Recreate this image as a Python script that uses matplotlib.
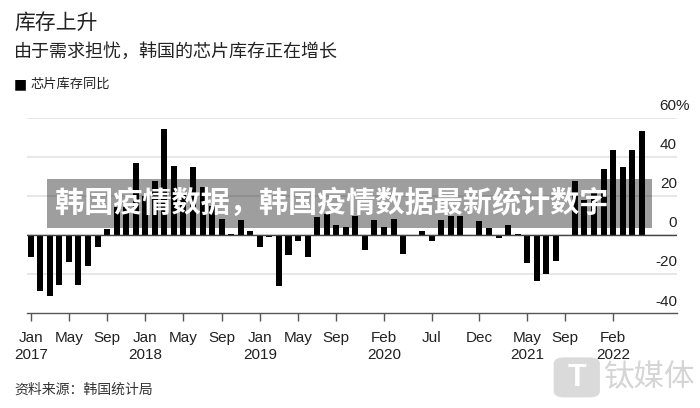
import matplotlib
matplotlib.use('Agg')
import matplotlib.pyplot as plt
import matplotlib.transforms as mtrans
from matplotlib.patches import Rectangle, FancyBboxPatch
import numpy as np

plt.rcParams['font.family'] = ['Liberation Sans', 'Noto Sans CJK SC', 'DejaVu Sans']

# monthly YoY change of chip inventory, Jan 2017 .. May 2022 (%)
values = [-11, -28.5, -31, -25.5, -13.5, -25.5, -15.7, -5.8, 3.2, 14.5, 14.5, 37.2,
          20, 28, 54.4, 35.5, 22, 34.9, 24.6, 15, 8.2, 0.8, 8, 2.4,
          -6.2, -1, -25.8, -10, -2.9, -11, 9.6, 11, 5.1, 4.4, 10, -7.5,
          7.9, 4.1, 8.2, -9.7, 0.3, 2.4, -2.7, 7.9, 9.9, 9.9, 0.3, 7.3,
          3.9, -1.4, 5.1, 0.7, -14.4, -23.4, -19.7, -13, 0.3, 28, 18, 22,
          33.8, 43.8, 34.9, 43.8, 53.7]
months = np.arange(len(values))

tick_pos = [0, 4, 8, 12, 16, 20, 24, 28, 32, 37, 42, 47, 52, 56, 61]
tick_labels = ['Jan\n2017', 'May', 'Sep', 'Jan\n2018', 'May', 'Sep', 'Jan\n2019', 'May',
               'Sep', 'Feb\n2020', 'Jul', 'Dec', 'May\n2021', 'Sep', 'Feb\n2022']
y_levels = [-40, -20, 0, 20, 40, 60]
y_labels = ['-40', '-20', '0', '20', '40', '60%']

title = '库存上升'
subtitle = '由于需求担忧，韩国的芯片库存正在增长'
legend_label = '芯片库存同比'
source = '资料来源：韩国统计局'
banner = '韩国疫情数据，韩国疫情数据最新统计数字'

fig = plt.figure(figsize=(7, 4.08), dpi=100)
ax = fig.add_axes([0.0386, 0.2321, 0.9286, 0.478])

ax.bar(months, values, width=0.63, color='black', zorder=3)
ax.set_xlim(-0.39, 67.7)
ax.set_ylim(-40, 60)

for y in y_levels[1:]:
    ax.axhline(y, color='#e3e3e3', lw=1.2, zorder=1)
ax.axhline(0, color='#444444', lw=1, zorder=4)

for s in ['top', 'left', 'right']:
    ax.spines[s].set_visible(False)
ax.spines['bottom'].set_color('#555555')
ax.spines['bottom'].set_linewidth(1)
ax.set_yticks([])
ax.set_xticks(tick_pos)
ax.set_xticklabels(tick_labels)
ax.tick_params(axis='x', length=6, width=1, color='#555555', labelsize=11,
               pad=7, labelcolor='#222222')

trans = mtrans.blended_transform_factory(ax.transAxes, ax.transData)
for y, lab in zip(y_levels, y_labels):
    xpos = 1.0 if lab != '60%' else 1.02
    ax.text(xpos, y + 4, lab, transform=trans, ha='right', va='baseline',
            fontsize=11, color='#222222')

# header
fig.text(0.02, 0.944, title, fontsize=15, color='#222222', va='center',
         family='Noto Sans CJK SC')
fig.text(0.02, 0.8725, subtitle, fontsize=13, color='#222222', va='center',
         family='Noto Sans CJK SC')
fig.text(0.02, 0.794, '■', fontsize=10, color='black', va='center',
         family='DejaVu Sans')
fig.text(0.043, 0.794, legend_label, fontsize=9.5, color='#222222', va='center',
         family='Noto Sans CJK SC')
fig.text(0.02, 0.044, source, fontsize=10, color='#333333', va='center',
         family='Noto Sans CJK SC')

# overlay banner
fig.add_artist(Rectangle((0.067, 0.441), 0.864, 0.120, transform=fig.transFigure,
                         facecolor='black', alpha=0.38, edgecolor='none', zorder=5))
fig.text(0.474, 0.5025, banner, fontsize=21, color='white', fontweight='heavy',
         ha='center', va='center', family='Noto Sans CJK SC', zorder=6)

# watermark
fig.add_artist(FancyBboxPatch((0.795, 0.03), 0.058, 0.09, transform=fig.transFigure,
                              boxstyle='round,pad=0.004,rounding_size=0.015',
                              facecolor='#dadada', edgecolor='none', zorder=5))
fig.text(0.824, 0.074, 'T', fontsize=22, color='white', fontweight='bold',
         ha='center', va='center', zorder=6)
fig.text(0.862, 0.074, '钛媒体', fontsize=22, color='#d5d5d5',
         ha='left', va='center', family='Noto Sans CJK SC', zorder=6)

fig.savefig('out.png', dpi=100)
